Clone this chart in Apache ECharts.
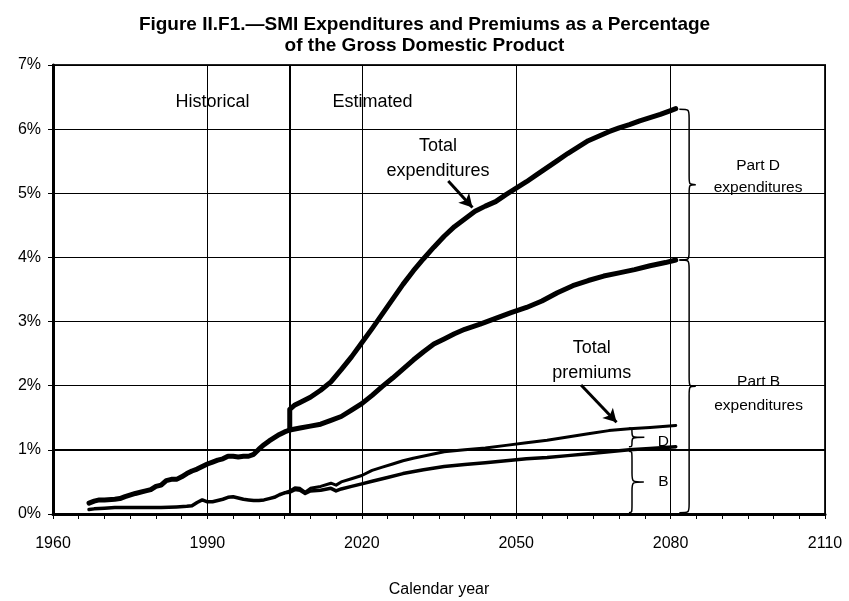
<!DOCTYPE html>
<html>
<head>
<meta charset="utf-8">
<title>SMI Expenditures and Premiums</title>
<script src="https://cdn.jsdelivr.net/npm/echarts@6/dist/echarts.min.js"></script>
<style>
  html, body { margin: 0; padding: 0; background: #fff; }
  #chart { width: 849px; height: 601px; }
</style>
</head>
<body>
<div id="chart"></div>
<script>
// values, [year, percent of GDP]
var partBExp = [
  [1967, 0.17], [1968, 0.20], [1969, 0.22], [1970, 0.22], [1972, 0.23], [1973, 0.24],
  [1974, 0.27], [1976, 0.32], [1978, 0.36], [1979, 0.38], [1980, 0.43], [1981, 0.45],
  [1982, 0.52], [1983, 0.54], [1984, 0.54], [1985, 0.58], [1986, 0.63], [1987, 0.67],
  [1988, 0.70], [1989, 0.74], [1990, 0.78], [1991, 0.81], [1992, 0.84], [1993, 0.86],
  [1994, 0.90], [1995, 0.90], [1996, 0.89], [1997, 0.90], [1998, 0.90], [1999, 0.93],
  [2000, 1.01], [2001, 1.08], [2002, 1.14], [2003, 1.19], [2004, 1.24], [2005, 1.28],
  [2006, 1.31], [2008, 1.34], [2010, 1.37], [2012, 1.40], [2014, 1.46], [2016, 1.52],
  [2018, 1.62], [2020, 1.72], [2022, 1.85], [2024, 1.99], [2026, 2.12], [2028, 2.26],
  [2030, 2.40], [2032, 2.53], [2034, 2.65], [2036, 2.73], [2038, 2.81], [2040, 2.88],
  [2043, 2.96], [2046, 3.05], [2049, 3.14], [2052, 3.22], [2055, 3.32], [2058, 3.45],
  [2061, 3.56], [2064, 3.64], [2067, 3.71], [2070, 3.76], [2073, 3.81], [2076, 3.87],
  [2079, 3.92], [2081, 3.96]
];
var totalExp = [
  [2006, 1.31], [2006, 1.63], [2007, 1.70], [2008, 1.74], [2010, 1.82], [2012, 1.93],
  [2014, 2.06], [2016, 2.25], [2018, 2.45], [2020, 2.67], [2022, 2.89], [2024, 3.12],
  [2026, 3.35], [2028, 3.58], [2030, 3.79], [2032, 3.98], [2034, 4.16], [2036, 4.33],
  [2038, 4.48], [2040, 4.60], [2042, 4.72], [2044, 4.80], [2046, 4.87], [2048, 4.98],
  [2050, 5.08], [2052, 5.18], [2054, 5.29], [2056, 5.40], [2058, 5.51], [2060, 5.62],
  [2062, 5.72], [2064, 5.82], [2066, 5.89], [2068, 5.96], [2070, 6.02], [2072, 6.07],
  [2074, 6.13], [2076, 6.18], [2078, 6.23], [2080, 6.29], [2081, 6.32]
];
var partBPrem = [
  [1967, 0.07], [1968, 0.08], [1970, 0.09], [1972, 0.10], [1975, 0.10], [1978, 0.10],
  [1981, 0.10], [1984, 0.11], [1986, 0.12], [1987, 0.13], [1988, 0.18], [1989, 0.22],
  [1990, 0.19], [1991, 0.19], [1992, 0.21], [1993, 0.23], [1994, 0.26], [1995, 0.27],
  [1996, 0.25], [1997, 0.23], [1998, 0.22], [1999, 0.21], [2000, 0.21], [2001, 0.22],
  [2002, 0.24], [2003, 0.26], [2004, 0.30], [2005, 0.33], [2006, 0.34], [2007, 0.38],
  [2008, 0.37], [2009, 0.32], [2010, 0.36], [2012, 0.37], [2014, 0.40], [2015, 0.36],
  [2016, 0.39], [2018, 0.43], [2020, 0.47], [2022, 0.51], [2025, 0.57], [2028, 0.63],
  [2032, 0.69], [2036, 0.74], [2040, 0.77], [2044, 0.80], [2048, 0.83], [2052, 0.86],
  [2056, 0.88], [2060, 0.91], [2064, 0.94], [2068, 0.97], [2072, 1.00], [2076, 1.02],
  [2081, 1.05]
];
var totalPrem = [
  [2005, 0.33], [2006, 0.36], [2007, 0.41], [2008, 0.40], [2009, 0.34], [2010, 0.40],
  [2012, 0.43], [2014, 0.48], [2015, 0.45], [2016, 0.50], [2018, 0.55], [2020, 0.60],
  [2022, 0.68], [2024, 0.73], [2026, 0.78], [2028, 0.83], [2030, 0.87], [2033, 0.92],
  [2036, 0.97], [2040, 1.00], [2044, 1.03], [2048, 1.07], [2052, 1.11], [2056, 1.15],
  [2060, 1.20], [2064, 1.25], [2068, 1.30], [2072, 1.33], [2076, 1.35], [2081, 1.38]
];
var yearTicks = [1960, 1990, 2020, 2050, 2080, 2110];
var pctTicks = [0, 1, 2, 3, 4, 5, 6, 7];
var splitYear = 2006;

// annotations, in data coordinates
var notes = [
  { x: 1991.0, y: 6.42, text: 'Historical', size: 18, lh: 24 },
  { x: 2022.1, y: 6.42, text: 'Estimated', size: 18, lh: 24 },
  { x: 2034.8, y: 5.54, text: 'Total\nexpenditures', size: 18, lh: 25 },
  { x: 2064.7, y: 2.39, text: 'Total\npremiums', size: 18, lh: 25 },
  { x: 2097.0, y: 5.26, text: 'Part D\nexpenditures', size: 15.5, lh: 22 },
  { x: 2097.1, y: 1.88, text: 'Part B\nexpenditures', size: 15.5, lh: 24 },
  { x: 2078.6, y: 1.12, text: 'D', size: 15.5, lh: 18 },
  { x: 2078.6, y: 0.50, text: 'B', size: 15.5, lh: 18 }
];
// braces: [left end year, spine year, tip year, top pct, bottom pct]
var braces = [
  [2081.7, 2083.6, 2084.9, 6.31, 3.96],
  [2081.7, 2083.6, 2084.9, 3.96, 0.02],
  [2071.9, 2072.5, 2074.9, 1.34, 1.05],
  [2071.9, 2072.5, 2074.8, 0.98, 0.02]
];
// arrows: [from, to]
var arrows = [
  [[2036.8, 5.19], [2041.5, 4.78]],
  [[2062.6, 2.01], [2069.5, 1.43]]
];

var X0 = yearTicks[0];
function shift(arr) {
  return arr.map(function (d) { return [d[0] - X0, d[1]]; });
}

var myChart = echarts.init(document.getElementById('chart'));
var font = 'Liberation Sans, Arial, sans-serif';

var option = {
  animation: false,
  backgroundColor: '#fff',
  title: {
    text: 'Figure II.F1.\u2014SMI Expenditures and Premiums as a Percentage\nof the Gross Domestic Product',
    left: 'center',
    top: 9,
    textStyle: { fontFamily: font, fontSize: 19, fontWeight: 'bold', color: '#000', lineHeight: 21 }
  },
  grid: {
    left: 53, right: 24, top: 65, bottom: 87,
    show: true, borderColor: '#222', borderWidth: 2,
    outerBoundsMode: 'none'
  },
  xAxis: {
    type: 'value',
    min: 0,
    max: yearTicks[yearTicks.length - 1] - X0,
    interval: yearTicks[1] - yearTicks[0],
    name: 'Calendar year',
    nameLocation: 'middle',
    nameGap: 68,
    nameTextStyle: { fontFamily: font, fontSize: 16, color: '#000' },
    axisLine: { lineStyle: { color: '#000', width: 3 } },
    axisTick: { length: 5, lineStyle: { color: '#000', width: 1 } },
    minorTick: { show: true, splitNumber: 6, length: 5, lineStyle: { color: '#000', width: 1 } },
    axisLabel: {
      fontFamily: font, fontSize: 16, color: '#000', margin: 22,
      formatter: function (v) { return String(v + X0); }
    },
    splitLine: { show: true, lineStyle: { color: '#000', width: 1 } }
  },
  yAxis: {
    type: 'value',
    min: pctTicks[0],
    max: pctTicks[pctTicks.length - 1],
    interval: 1,
    axisLine: { show: true, lineStyle: { color: '#000', width: 3 } },
    axisTick: { show: true, length: 5, lineStyle: { color: '#000', width: 1 } },
    axisLabel: { fontFamily: font, fontSize: 16, color: '#000', margin: 12, formatter: '{value}%' },
    splitLine: { show: true, lineStyle: { color: '#000', width: 1 } }
  },
  series: [
    {
      name: 'Part B expenditures',
      type: 'line',
      data: shift(partBExp),
      showSymbol: false,
      lineStyle: { color: '#000', width: 5, cap: 'round', join: 'round' },
      markLine: {
        silent: true,
        symbol: 'none',
        label: { show: false },
        lineStyle: { color: '#000', width: 2, type: 'solid' },
        data: [{ yAxis: 1 }, { xAxis: splitYear - X0 }]
      }
    },
    {
      name: 'Total expenditures',
      type: 'line',
      data: shift(totalExp),
      showSymbol: false,
      lineStyle: { color: '#000', width: 5, cap: 'round', join: 'round' },
      markLine: {
        silent: true,
        symbol: ['none', 'arrow'],
        symbolSize: [11, 13],
        label: { show: false },
        lineStyle: { color: '#000', width: 3, type: 'solid' },
        data: arrows.map(function (a) {
          return [{ coord: [a[0][0] - X0, a[0][1]] }, { coord: [a[1][0] - X0, a[1][1]] }];
        })
      }
    },
    {
      name: 'Part B premiums',
      type: 'line',
      data: shift(partBPrem),
      showSymbol: false,
      lineStyle: { color: '#000', width: 3.5, cap: 'round', join: 'round' }
    },
    {
      name: 'Total premiums',
      type: 'line',
      data: shift(totalPrem),
      showSymbol: false,
      lineStyle: { color: '#000', width: 3, cap: 'round', join: 'round' }
    },
    {
      name: 'braces',
      type: 'custom',
      silent: true,
      data: braces.map(function (b) { return [b[0] - X0, b[3], b[1] - X0, b[2] - X0, b[4]]; }),
      encode: { x: 0, y: 1 },
      renderItem: function (params, api) {
        var top = api.coord([api.value(0), api.value(1)]);
        var bot = api.coord([api.value(0), api.value(4)]);
        var xm = api.coord([api.value(2), api.value(1)])[0];
        var xt = api.coord([api.value(3), api.value(1)])[0];
        var xl = top[0], yt = top[1], yb = bot[1];
        var ym = (yt + yb) / 2;
        var r = Math.min(9, (yb - yt) / 4);
        var d = 'M' + xl + ',' + yt +
          ' C' + xm + ',' + yt + ' ' + xm + ',' + yt + ' ' + xm + ',' + (yt + r) +
          ' L' + xm + ',' + (ym - r) +
          ' C' + xm + ',' + ym + ' ' + xm + ',' + ym + ' ' + xt + ',' + ym +
          ' C' + xm + ',' + ym + ' ' + xm + ',' + ym + ' ' + xm + ',' + (ym + r) +
          ' L' + xm + ',' + (yb - r) +
          ' C' + xm + ',' + yb + ' ' + xm + ',' + yb + ' ' + xl + ',' + yb;
        return {
          type: 'path',
          shape: { pathData: d },
          style: { stroke: '#000', lineWidth: 1.5, fill: null }
        };
      }
    },
    {
      name: 'notes',
      type: 'custom',
      silent: true,
      data: notes.map(function (n) { return [n.x - X0, n.y]; }),
      encode: { x: 0, y: 1 },
      renderItem: function (params, api) {
        var n = notes[params.dataIndex];
        var p = api.coord([api.value(0), api.value(1)]);
        return {
          type: 'text',
          x: p[0],
          y: p[1],
          style: {
            text: n.text,
            fill: '#000',
            fontFamily: 'Liberation Sans',
            fontSize: n.size,
            lineHeight: n.lh,
            align: 'center',
            verticalAlign: 'middle',
            textAlign: 'center',
            textVerticalAlign: 'middle'
          }
        };
      }
    }
  ]
};
myChart.setOption(option);
</script>
</body>
</html>
